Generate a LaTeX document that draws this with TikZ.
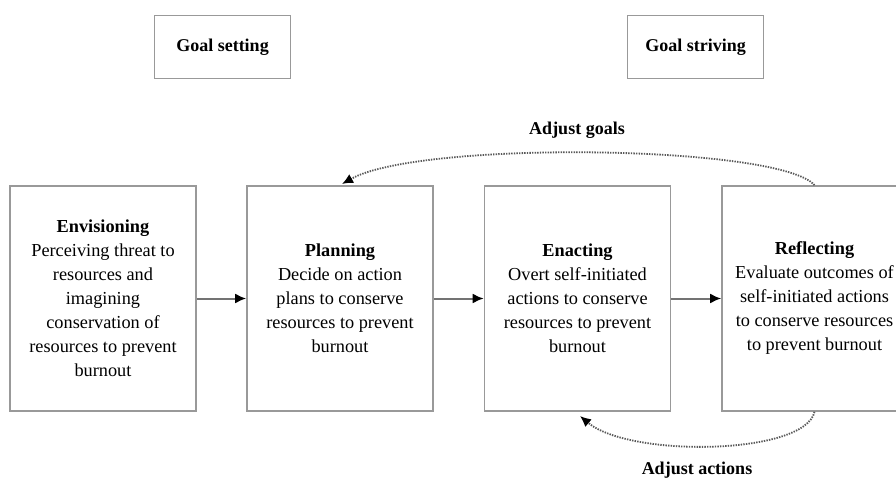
\documentclass[tikz,border=0pt]{standalone}
\usepackage{fontspec}
\setmainfont{Liberation Serif}
\usetikzlibrary{arrows.meta}
\begin{document}
\begin{tikzpicture}[x=1pt,y=-1pt,
  stagebox/.style={draw=black!40,line width=1.6pt,minimum width=186pt,minimum height=225pt,align=center,inner sep=2pt,font=\fontsize{18.3}{24}\selectfont},
  goalbox/.style={draw=black!40,line width=1.6pt,minimum width=136pt,minimum height=63pt,font=\bfseries\fontsize{18}{22}\selectfont},
  flow/.style={draw=black!55,line width=2pt,-{Latex[length=11pt,width=10pt,black]}},
  loop/.style={draw=black!65,line width=1.8pt,dash pattern=on 1.4pt off 1.2pt,-{Latex[length=11pt,width=10pt,black]}},
  lab/.style={font=\bfseries\fontsize{18}{22}\selectfont}]
\clip (0,0) rectangle (896,481);
\fill[white] (0,0) rectangle (896,481);
\node[goalbox] (gs) at (222.5,47) {Goal setting};
\node[goalbox] (gv) at (695.5,47) {Goal striving};
\node[stagebox] (env) at (103,298.5) {\textbf{Envisioning}\\Perceiving threat to\\resources and\\imagining\\conservation of\\resources to prevent\\burnout};
\node[stagebox] (pla) at (340,298.5) {\textbf{Planning}\\Decide on action\\plans to conserve\\resources to prevent\\burnout};
\node[stagebox] (ena) at (577.5,298.5) {\textbf{Enacting}\\Overt self-initiated\\actions to conserve\\resources to prevent\\burnout};
\node[stagebox,minimum width=185pt] (ref) at (814.5,298.5) {\textbf{Reflecting}\\Evaluate outcomes of\\self-initiated actions\\to conserve resources\\to prevent burnout};
\draw[flow] (env) -- (pla);
\draw[flow] (pla) -- (ena);
\draw[flow] (ena) -- (ref);
\coordinate (gend) at (342,184);
\coordinate (aend) at (580,416);
\draw[loop] (ref.north) .. controls (780,145) and (420,140) .. (gend);
\draw[loop] (ref.south) .. controls (805,455) and (630,458) .. (aend);
\node[lab] (ag) at (577,130) {Adjust goals};
\node[lab] (aa) at (697,470) {Adjust actions};
\end{tikzpicture}
\end{document}
